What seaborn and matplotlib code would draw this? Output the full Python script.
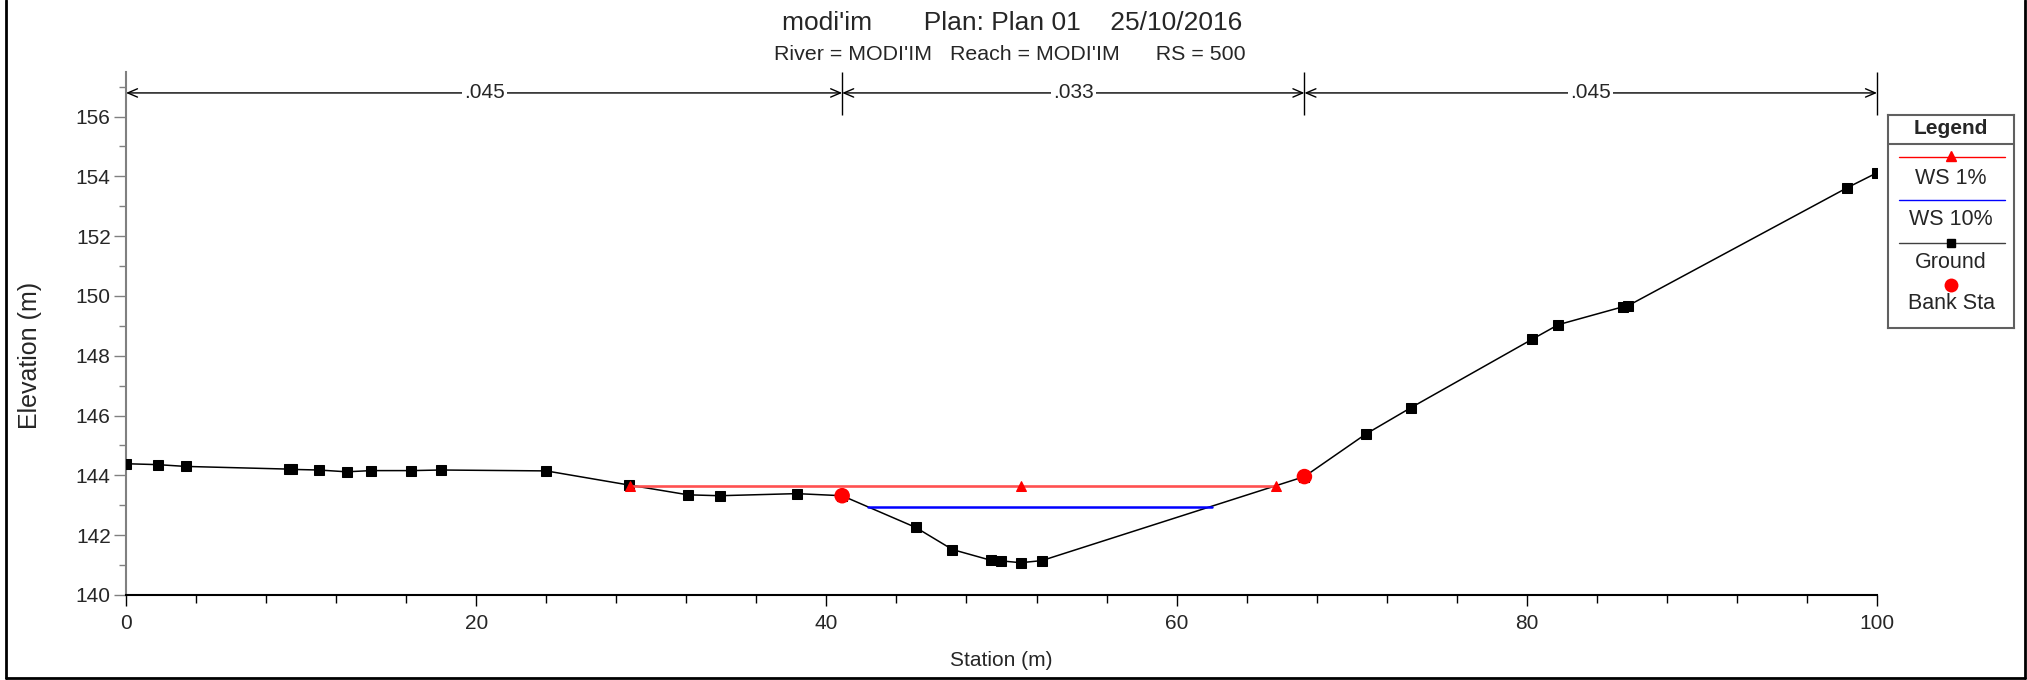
import matplotlib
matplotlib.use("Agg")
import matplotlib.pyplot as plt
import seaborn as sns
from matplotlib.lines import Line2D
from matplotlib.ticker import MultipleLocator

station = [0.0, 1.8, 3.4, 9.3, 9.5, 11.0, 12.6, 14.0, 16.3, 18.0, 24.0, 28.7,
           32.1, 33.9, 38.3, 40.9, 45.1, 47.2, 49.4, 50.0, 51.1, 52.3, 67.3,
           70.8, 73.4, 80.3, 81.8, 85.5, 85.8, 98.3, 100.0]
elevation = [144.39, 144.36, 144.30, 144.21, 144.20, 144.18, 144.12, 144.16,
             144.16, 144.18, 144.15, 143.68, 143.35, 143.32, 143.39, 143.32,
             142.26, 141.52, 141.16, 141.14, 141.08, 141.15, 143.96, 145.38,
             146.27, 148.55, 149.04, 149.64, 149.68, 153.62, 154.12]

# Niveles de agua
ws1_sta = [28.8, 51.1, 65.7]
ws1_elev = [143.66, 143.66, 143.66]
ws10_sta = [42.4, 62.0]
ws10_elev = [142.95, 142.95]

# Bank stations
bank_sta = [40.9, 67.3]
bank_elev = [143.32, 143.96]

# Manning n por tramo
n_edges = [0, 40.9, 67.3, 100]
n_values = ['.045', '.033', '.045']
n_elev = 156.79

W, H = 2027, 680
sns.set_style("white")
plt.rcParams['font.family'] = ['Liberation Sans', 'DejaVu Sans']

fig = plt.figure(figsize=(W / 100, H / 100), dpi=100)
ax = fig.add_axes([126 / W, (H - 595) / H, (1877 - 126) / W, (595 - 72) / H])

sns.lineplot(x=station, y=elevation, ax=ax, color='black', linewidth=1.1,
             marker='s', markersize=7, markerfacecolor='black',
             markeredgecolor='black', sort=False, estimator=None, zorder=3)
sns.lineplot(x=ws1_sta, y=ws1_elev, ax=ax, color='#ff5050', linewidth=1.9,
             marker='^', markersize=7, markerfacecolor='red',
             markeredgecolor='red', sort=False, estimator=None, zorder=4)
sns.lineplot(x=ws10_sta, y=ws10_elev, ax=ax, color='blue', linewidth=1.8,
             sort=False, estimator=None, zorder=4)
sns.scatterplot(x=bank_sta, y=bank_elev, ax=ax, color='red', s=125,
                marker='o', edgecolor='none', zorder=5)

# flechas de Manning n
for i, lab in enumerate(n_values):
    x0, x1 = n_edges[i], n_edges[i + 1]
    ax.annotate('', xy=(x1, n_elev), xytext=(x0, n_elev), annotation_clip=False,
                arrowprops=dict(arrowstyle='<->,head_length=0.7,head_width=0.3',
                                lw=1, color='black', shrinkA=0, shrinkB=0))
    ax.text((x0 + x1) / 2, n_elev, lab, ha='center', va='center', fontsize=15,
            bbox=dict(fc='white', ec='none', pad=1.5), zorder=6)
ax.vlines(n_edges[1:], 156.05, 157.49, color='black', lw=1, clip_on=False)

ax.set_xlim(0, 100)
ax.set_ylim(140, 157.49)
ax.xaxis.set_major_locator(MultipleLocator(20))
ax.xaxis.set_minor_locator(MultipleLocator(4))
ax.yaxis.set_minor_locator(MultipleLocator(1))
ax.set_yticks([140, 142, 144, 146, 148, 150, 152, 154, 156])
ax.tick_params(axis='x', which='major', direction='out', length=8, width=1,
               color='black', labelsize=15, pad=6, bottom=True)
ax.tick_params(axis='x', which='minor', direction='out', length=6, width=1,
               color='black', bottom=True)
ax.tick_params(axis='y', which='major', direction='out', length=9, width=1,
               color='#808080', labelsize=15, pad=2, left=True)
ax.tick_params(axis='y', which='minor', direction='out', length=5, width=1,
               color='#808080', left=True)
for s in ['top', 'right']:
    ax.spines[s].set_visible(False)
ax.spines['left'].set_color('#808080')
ax.spines['left'].set_linewidth(1.5)
ax.spines['bottom'].set_color('black')
ax.spines['bottom'].set_linewidth(1.5)

ax.set_xlabel('Station (m)', fontsize=15)
ax.set_ylabel('Elevation (m)', fontsize=18)
ax.xaxis.set_label_coords(0.5, (595 - 660) / 523)
ax.xaxis.label.set_va('center')
ax.yaxis.set_label_coords((30 - 126) / 1751, (595 - 355) / 523)
ax.yaxis.label.set_va('center')

fig.text(1012 / W, 1 - 23 / H, "modi'im       Plan: Plan 01    25/10/2016",
         ha='center', va='center', fontsize=19)
fig.text(1010 / W, 1 - 55 / H, "River = MODI'IM   Reach = MODI'IM      RS = 500",
         ha='center', va='center', fontsize=15.4)

# leyenda dibujada a mano como en HEC-RAS
lx0, lx1, ly0, ly1 = 1888, 2014, 115, 328
lax = fig.add_axes([lx0 / W, (H - ly1) / H, (lx1 - lx0) / W, (ly1 - ly0) / H])
lax.set_xlim(lx0, lx1)
lax.set_ylim(ly1, ly0)
lax.set_xticks([])
lax.set_yticks([])
for s in lax.spines.values():
    s.set_color('#606060')
    s.set_linewidth(1.5)
lax.axhline(144, color='#606060', lw=1.5)
cx = (lx0 + lx1) / 2
lax.text(cx, 128, 'Legend', ha='center', va='center', fontsize=15, fontweight='bold')
lax.plot([1899, 2005], [157, 157], color='red', lw=1)
lax.plot([cx], [156], marker='^', color='red', markersize=7)
lax.text(cx, 178, 'WS 1%', ha='center', va='center', fontsize=15.5)
lax.plot([1899, 2005], [200, 200], color='blue', lw=1)
lax.text(cx, 220, 'WS 10%', ha='center', va='center', fontsize=15.5)
lax.plot([1899, 2005], [243, 243], color='#404040', lw=1)
lax.plot([cx], [243], marker='s', color='black', markersize=6)
lax.text(cx, 263, 'Ground', ha='center', va='center', fontsize=15.5)
lax.plot([cx], [285], marker='o', color='red', markersize=10, markeredgecolor='none')
lax.text(cx, 304, 'Bank Sta', ha='center', va='center', fontsize=15.5)

# marco exterior
for xs, ys in [([6, 6], [0, 678]), ([6, 2025], [678, 678]), ([2025, 2025], [0, 678])]:
    fig.add_artist(Line2D([x / W for x in xs], [1 - y / H for y in ys],
                          color='black', lw=2, transform=fig.transFigure))

plt.savefig('out.png', dpi=100)
